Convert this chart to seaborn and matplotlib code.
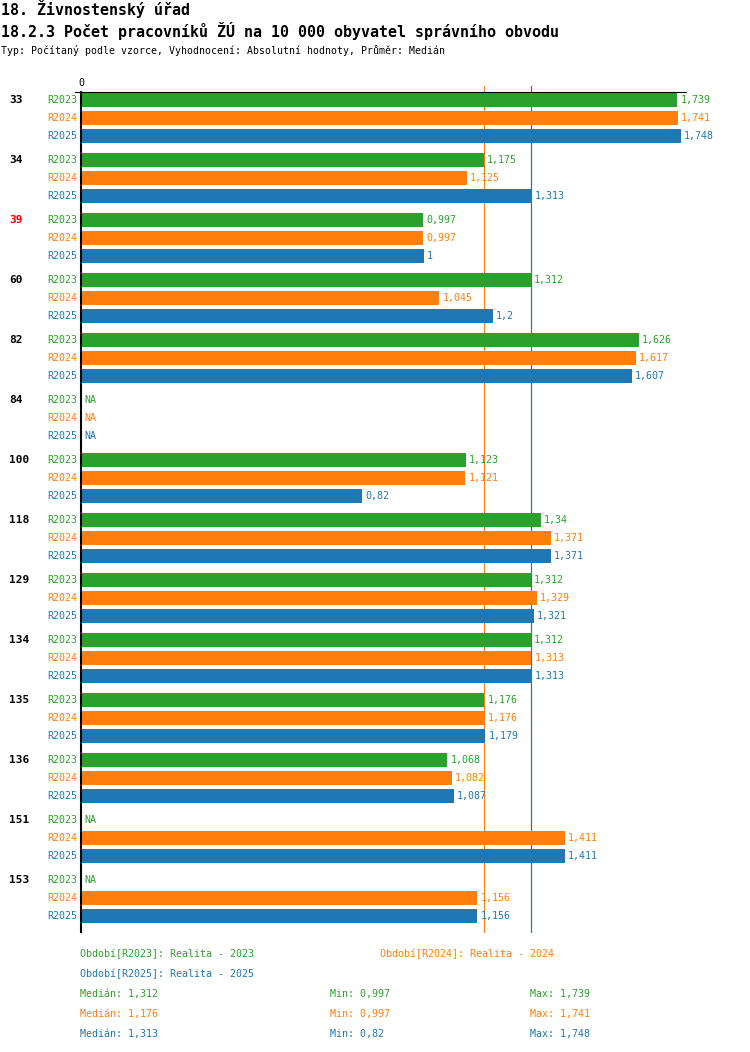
import numpy as np
import pandas as pd
import matplotlib
matplotlib.use("Agg")
import matplotlib.pyplot as plt
import seaborn as sns

groups = ["33", "34", "39", "60", "82", "84", "100", "118", "129", "134", "135", "136", "151", "153"]
highlight = ["39"]
periods = ["R2023", "R2024", "R2025"]
period_names = ["Realita - 2023", "Realita - 2024", "Realita - 2025"]
nan = np.nan
r2023 = [1.739, 1.175, 0.997, 1.312, 1.626, nan, 1.123, 1.34, 1.312, 1.312, 1.176, 1.068, nan, nan]
r2024 = [1.741, 1.125, 0.997, 1.045, 1.617, nan, 1.121, 1.371, 1.329, 1.313, 1.176, 1.082, 1.411, 1.156]
r2025 = [1.748, 1.313, 1.0, 1.2, 1.607, nan, 0.82, 1.371, 1.321, 1.313, 1.179, 1.087, 1.411, 1.156]
colors = ["#2ca02c", "#ff7f0e", "#1f77b4"]

title1 = "18. Živnostenský úřad"
title2 = "18.2.3 Počet pracovníků ŽÚ na 10 000 obyvatel správního obvodu"
subtitle = "Typ: Počítaný podle vzorce, Vyhodnocení: Absolutní hodnoty, Průměr: Medián"

series = [r2023, r2024, r2025]
df = pd.DataFrame({
    "group": groups * 3,
    "period": np.repeat(periods, len(groups)),
    "value": r2023 + r2024 + r2025,
})


def fmt(v):
    return f"{v:g}".replace(".", ",")


sns.set_style("white")
plt.rcParams["font.family"] = ["DejaVu Sans Mono", "DejaVu Sans"]
plt.rcParams["text.color"] = "black"
plt.rcParams["xtick.color"] = "black"

W, H = 750, 1052
fig = plt.figure(figsize=(W / 100, H / 100), dpi=100)
left, right, top, bottom = 81, 686, 92, 932
ax = fig.add_axes([left / W, 1 - bottom / H, (right - left) / W, (bottom - top) / H])

sns.barplot(data=df, x="value", y="group", hue="period", order=groups, hue_order=periods,
            palette=colors, orient="h", width=0.9, gap=0.17, saturation=1,
            legend=False, ax=ax, errorbar=None, linewidth=0)

xmax = 1.764
ax.set_xlim(0, xmax)
ax.set_ylim(len(groups) - 1 + 34 / 60, -26 / 60)
ax.set_yticks([])
ax.set_xlabel("")
ax.set_ylabel("")
ax.set_xticks([0])
ax.xaxis.tick_top()
ax.tick_params(axis="x", length=0, pad=3, labelsize=7.2)

for s in ["right", "bottom", "top"]:
    ax.spines[s].set_visible(False)
ax.spines["left"].set_linewidth(1.5)
ax.spines["left"].set_color("black")
ax.axhline(-26 / 60, xmin=-6 / (right - left), xmax=1, color="black", lw=0.8, clip_on=False)

px = (right - left) / xmax  # pixels per unit
medians = [np.nanmedian(s) for s in series]
for m, c in zip(medians, colors):
    ax.axvline(m, ymin=0, ymax=1 + 6 / (bottom - top), color=c, lw=0.8, zorder=0.5, clip_on=False)

offsets = [-0.3, 0, 0.3]
ytrans = ax.get_yaxis_transform()
for i, g in enumerate(groups):
    ax.text(-72 / (right - left), i - 0.3, g, transform=ytrans, ha="left", va="center",
            fontsize=8, fontweight="bold", color="red" if g in highlight else "black")
    for j, (p, s, c) in enumerate(zip(periods, series, colors)):
        y = i + offsets[j]
        ax.text(-4 / (right - left), y, p, transform=ytrans, ha="right", va="center",
                fontsize=7.2, color=c)
        v = s[i]
        if np.isnan(v):
            ax.text(3 / px, y, "NA", ha="left", va="center", fontsize=7.2, color=c)
        else:
            ax.text(v + 3 / px, y, fmt(v), ha="left", va="center", fontsize=7.2, color=c)

fig.text(1 / W, 1 - 9 / H, title1, ha="left", va="center", fontsize=10.8, fontweight="bold")
fig.text(1 / W, 1 - 31 / H, title2, ha="left", va="center", fontsize=10.8, fontweight="bold")
fig.text(1 / W, 1 - 50 / H, subtitle, ha="left", va="center", fontsize=7.1)

legend_pos = [(80, 954), (380, 954), (80, 974)]
for (lx, ly), p, name, c in zip(legend_pos, periods, period_names, colors):
    fig.text(lx / W, 1 - ly / H, f"Období[{p}]: {name}", ha="left", va="center",
             fontsize=7.2, color=c)

for k, (s, c) in enumerate(zip(series, colors)):
    ly = 994 + 20 * k
    fig.text(80 / W, 1 - ly / H, f"Medián: {fmt(np.nanmedian(s))}", ha="left", va="center", fontsize=7.2, color=c)
    fig.text(330 / W, 1 - ly / H, f"Min: {fmt(np.nanmin(s))}", ha="left", va="center", fontsize=7.2, color=c)
    fig.text(530 / W, 1 - ly / H, f"Max: {fmt(np.nanmax(s))}", ha="left", va="center", fontsize=7.2, color=c)

fig.savefig("out.png", dpi=100)
